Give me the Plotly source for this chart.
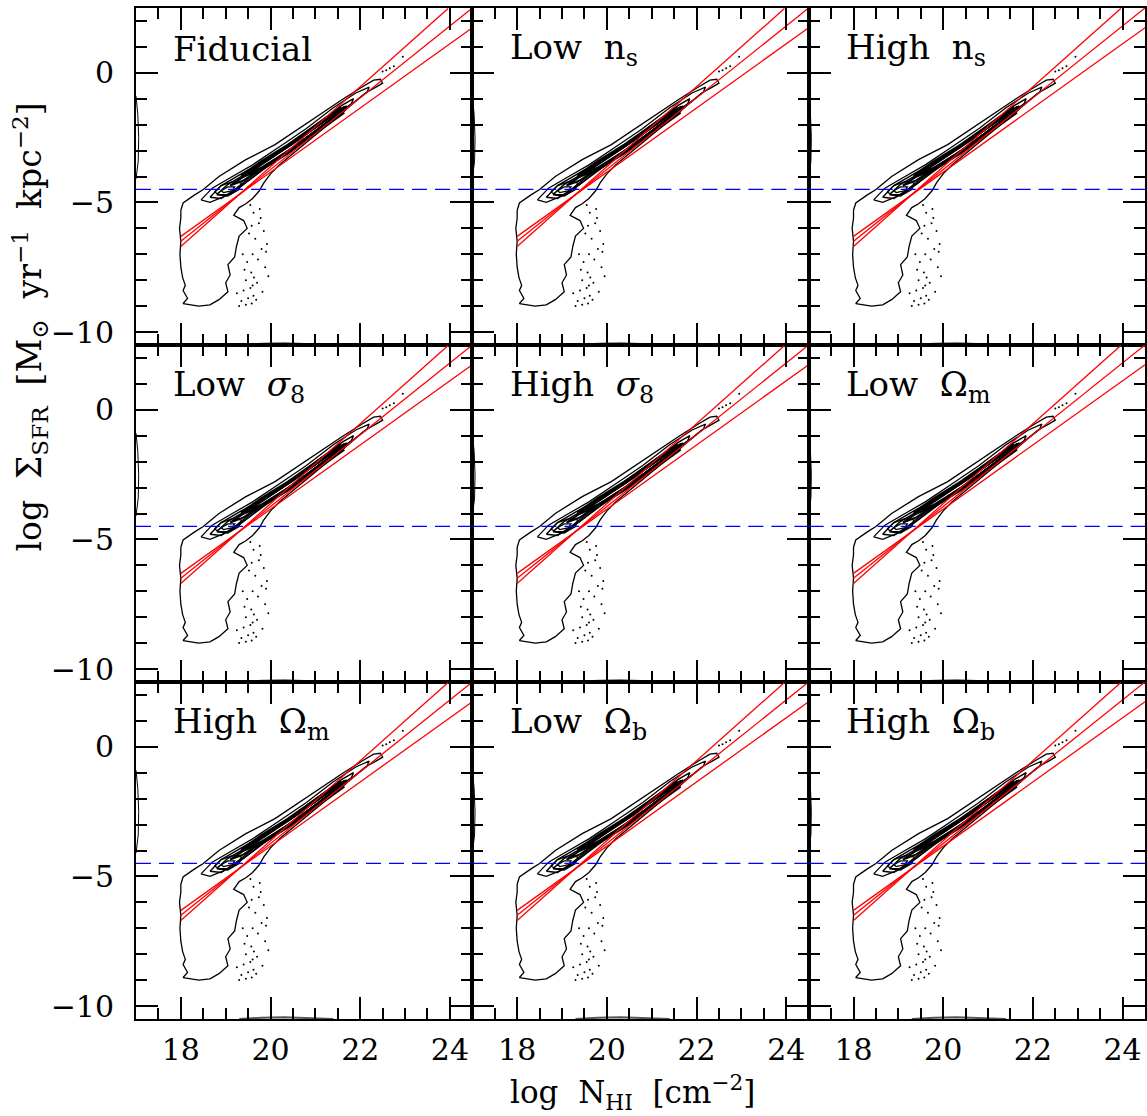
import plotly.graph_objects as go

# ---------------- data ----------------
panel_titles = [
    "Fiducial",
    "Low\u00a0\u00a0n<sub>s</sub>",
    "High\u00a0\u00a0n<sub>s</sub>",
    "Low\u00a0\u00a0<i>σ</i><sub>8</sub>",
    "High\u00a0\u00a0<i>σ</i><sub>8</sub>",
    "Low\u00a0\u00a0Ω<sub>m</sub>",
    "High\u00a0\u00a0Ω<sub>m</sub>",
    "Low\u00a0\u00a0Ω<sub>b</sub>",
    "High\u00a0\u00a0Ω<sub>b</sub>",
]

x_tick_vals = [18, 20, 22, 24]
y_tick_vals = [-10, -5, 0]

# Kennicutt-Schmidt-type relations (three red lines), endpoints
ks_x0 = [18.0, 18.0, 18.0]
ks_y0 = [-6.70, -6.50, -6.31]
ks_x1 = [23.96, 24.5, 24.5]
ks_y1 = [2.48, 2.50, 1.74]

# threshold (blue dashed)
threshold_y = -4.5

# outermost contour
outer_x = [18.00, 18.05, 18.30, 18.50, 18.85, 19.45, 20.10, 20.70, 21.20, 21.60, 22.05, 22.30, 22.45,
           22.50, 22.35, 22.10, 21.60, 21.10, 20.60, 20.20, 20.00, 19.85, 19.75, 19.60, 19.45,
           19.30, 19.18, 19.40, 19.48, 19.30, 19.24, 19.20, 19.05, 19.10, 19.00, 19.05, 18.85,
           18.65, 18.40, 18.20, 18.05, 18.15, 18.05, 18.10, 18.04, 18.00, 17.98, 18.00, 17.97,
           18.00, 18.00]
outer_y = [-5.30, -5.02, -4.72, -4.50, -4.00, -3.35, -2.77, -2.06, -1.50, -1.03, -0.54, -0.28, -0.25,
           -0.40, -0.55, -0.80, -1.54, -2.25, -2.95, -3.55, -3.90, -4.25, -4.55, -4.85, -5.05,
           -5.20, -5.50, -5.70, -6.00, -6.30, -6.70, -7.10, -7.40, -7.80, -8.10, -8.45, -8.75,
           -8.95, -9.00, -8.95, -8.90, -8.70, -8.40, -8.20, -7.90, -7.50, -7.00, -6.50, -6.00,
           -5.60, -5.30]

# inner contours
c2_x = [18.45, 18.70, 19.10, 19.60, 20.20, 20.80, 21.40, 21.90, 22.20, 22.15, 21.70, 21.10, 20.50,
        19.90, 19.40, 19.00, 18.65, 18.45]
c2_y = [-4.90, -4.45, -4.05, -3.55, -2.85, -2.15, -1.35, -0.78, -0.55, -0.75, -1.35, -2.10, -2.90,
        -3.60, -4.30, -4.75, -5.00, -4.90]
c3_x = [18.65, 18.90, 19.30, 19.90, 20.50, 21.10, 21.60, 21.85, 21.80, 21.40, 20.80, 20.20, 19.60,
        19.20, 18.90, 18.65]
c3_y = [-4.80, -4.35, -3.95, -3.35, -2.65, -1.90, -1.25, -1.00, -1.20, -1.70, -2.50, -3.25, -3.95,
        -4.50, -4.85, -4.80]
c4_x = [18.80, 19.05, 19.50, 20.00, 20.60, 21.20, 21.65, 21.60, 21.10, 20.50, 19.90, 19.40, 19.05, 18.80]
c4_y = [-4.70, -4.30, -3.85, -3.30, -2.60, -1.85, -1.30, -1.55, -2.20, -2.95, -3.65, -4.30, -4.75, -4.70]
c5_x = [19.10, 19.40, 19.90, 20.50, 21.10, 21.70, 21.65, 21.10, 20.50, 19.90, 19.40, 19.10]
c5_y = [-4.35, -4.00, -3.42, -2.72, -1.98, -1.28, -1.45, -2.15, -2.88, -3.58, -4.15, -4.35]
peak1_x = [18.75, 18.90, 19.15, 19.35, 19.30, 19.10, 18.85, 18.75]
peak1_y = [-4.60, -4.35, -4.20, -4.25, -4.50, -4.70, -4.70, -4.60]
peak2_x = [18.90, 19.05, 19.20, 19.15, 18.95, 18.90]
peak2_y = [-4.55, -4.40, -4.40, -4.55, -4.62, -4.55]
core_x = [19.35, 19.80, 20.40, 21.00, 21.55, 21.60, 21.00, 20.40, 19.80, 19.35]
core_y = [-4.00, -3.45, -2.80, -2.05, -1.40, -1.55, -2.30, -3.05, -3.70, -4.00]

# scattered points outside the outer contour
dots_x = [19.55, 19.62, 19.78, 19.58, 19.85, 19.66, 19.92, 19.80, 19.60, 19.72, 19.48, 19.88, 19.57,
          19.63, 19.45, 19.70, 19.55, 19.40, 19.62, 19.50, 19.35, 19.58, 19.45, 19.30, 19.52, 19.42,
          19.25, 19.38, 19.60, 19.74, 19.95, 19.82, 19.68, 19.90, 19.76,
          22.50, 22.58, 22.66, 22.75, 22.95]
dots_y = [-5.10, -5.40, -5.60, -5.90, -6.10, -6.40, -6.60, -6.80, -7.00, -7.20, -7.30, -7.50, -7.70,
          -7.90, -8.00, -8.10, -8.30, -8.40, -8.60, -8.70, -8.80, -8.90, -8.95, -9.00, -6.20, -7.60,
          -8.50, -7.00, -8.20, -5.80, -7.85, -8.45, -8.75, -6.90, -5.25,
          0.05, 0.10, 0.18, 0.25, 0.62]

# marginal traces along the panel edges
left_edge_x = [17.00, 17.04, 17.06, 17.05, 17.00]
left_edge_y = [-0.90, -1.60, -2.50, -3.40, -4.10]
bottom_edge_x = [19.30, 19.80, 20.30, 20.80, 21.40]
bottom_edge_y = [-10.50, -10.45, -10.43, -10.46, -10.50]

# ---------------- figure ----------------
W, H = 1147, 1116
ML, MR, MT, MB = 136, 0, 8, 97
X_RANGE = [17, 24.5]
Y_RANGE = [-10.5, 2.5]
FONT = "DejaVu Serif"

fig = go.Figure()

contours = [(outer_x, outer_y, 1.3), (c2_x, c2_y, 1.3), (c3_x, c3_y, 1.4), (c4_x, c4_y, 1.6),
            (c5_x, c5_y, 2.0), (peak1_x, peak1_y, 1.3), (peak2_x, peak2_y, 1.3),
            (core_x, core_y, 4.0)]

layout_axes = {}
for i in range(9):
    r, c = divmod(i, 3)
    n = i + 1
    xname = "x" if n == 1 else f"x{n}"
    yname = "y" if n == 1 else f"y{n}"

    fig.add_trace(go.Scatter(x=left_edge_x, y=left_edge_y, mode="lines",
                             line=dict(color="black", width=1), xaxis=xname, yaxis=yname,
                             showlegend=False, hoverinfo="skip"))
    fig.add_trace(go.Scatter(x=bottom_edge_x, y=bottom_edge_y, mode="lines",
                             line=dict(color="#555555", width=2), xaxis=xname, yaxis=yname,
                             showlegend=False, hoverinfo="skip"))
    for cx, cy, w in contours:
        fig.add_trace(go.Scatter(x=cx, y=cy, mode="lines", line=dict(color="black", width=w),
                                 xaxis=xname, yaxis=yname, showlegend=False, hoverinfo="skip"))
    fig.add_trace(go.Scatter(x=dots_x, y=dots_y, mode="markers",
                             marker=dict(color="black", size=2), xaxis=xname, yaxis=yname,
                             showlegend=False, hoverinfo="skip"))
    fig.add_trace(go.Scatter(x=list(X_RANGE), y=[threshold_y, threshold_y], mode="lines",
                             line=dict(color="blue", width=1.3, dash="15px,8px"),
                             xaxis=xname, yaxis=yname, showlegend=False, hoverinfo="skip"))
    for k in range(3):
        fig.add_trace(go.Scatter(x=[ks_x0[k], ks_x1[k]], y=[ks_y0[k], ks_y1[k]], mode="lines",
                                 line=dict(color="red", width=1.3), xaxis=xname, yaxis=yname,
                                 showlegend=False, hoverinfo="skip"))

    common = dict(showline=True, linewidth=2, linecolor="black", mirror="ticks",
                  ticks="inside", tickwidth=1.5, tickcolor="black", showgrid=False,
                  zeroline=False, tickfont=dict(family=FONT, size=30, color="black"))
    layout_axes["xaxis" if n == 1 else f"xaxis{n}"] = dict(
        common, domain=[c / 3, (c + 1) / 3], anchor=yname, range=X_RANGE,
        tickmode="array", tickvals=x_tick_vals, ticklen=22,
        minor=dict(ticks="inside", ticklen=11, tickwidth=1.5, tickcolor="black",
                   tickmode="linear", tick0=17, dtick=0.5),
        showticklabels=(r == 2), ticklabelstandoff=3)
    layout_axes["yaxis" if n == 1 else f"yaxis{n}"] = dict(
        common, domain=[1 - (r + 1) / 3, 1 - r / 3], anchor=xname, range=Y_RANGE,
        tickmode="array", tickvals=y_tick_vals, ticklen=22,
        minor=dict(ticks="inside", ticklen=11, tickwidth=1.5, tickcolor="black",
                   tickmode="linear", tick0=0, dtick=1),
        showticklabels=(c == 0), ticklabelstandoff=14)

annotations = []
for i, t in enumerate(panel_titles):
    r, c = divmod(i, 3)
    n = i + 1
    annotations.append(dict(
        text=t, x=0.105, y=0.878, xref=("x" if n == 1 else f"x{n}") + " domain",
        yref=("y" if n == 1 else f"y{n}") + " domain", xanchor="left", yanchor="middle",
        showarrow=False, font=dict(family=FONT, size=34, color="black")))

annotations.append(dict(
    text="log\u00a0\u00a0N<sub>HI</sub>\u00a0\u00a0[cm<sup>−2</sup>]", x=0.4916, y=-0.073,
    xref="paper", yref="paper", xanchor="center", yanchor="middle", showarrow=False,
    font=dict(family=FONT, size=31, color="black")))
annotations.append(dict(
    text=("log\u00a0\u00a0Σ<sub>SFR</sub>\u00a0\u00a0[M<sub>⊙</sub>\u00a0\u00a0yr<sup>−1</sup>"
          "\u00a0\u00a0kpc<sup>−2</sup>]"),
    x=-0.105, y=0.684, xref="paper", yref="paper", xanchor="center", yanchor="middle",
    textangle=-90, showarrow=False, font=dict(family=FONT, size=33, color="black")))

fig.update_layout(width=W, height=H, margin=dict(l=ML, r=MR, t=MT, b=MB),
                  paper_bgcolor="white", plot_bgcolor="white", showlegend=False,
                  annotations=annotations, **layout_axes)

fig.write_html("out.html")
